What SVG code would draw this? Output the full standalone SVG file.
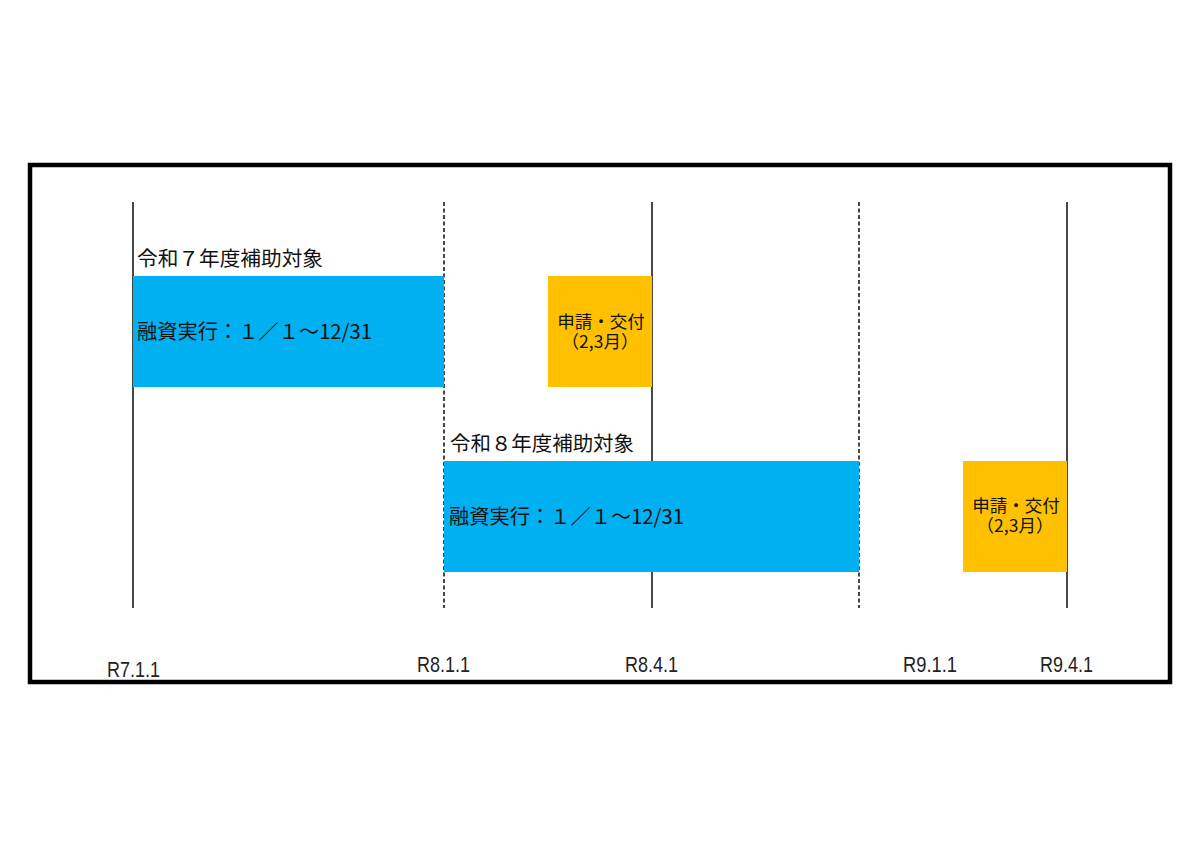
<svg xmlns="http://www.w3.org/2000/svg" width="1200" height="849" viewBox="0 0 1200 849">
<style>
.frame{fill:none;stroke:#000;stroke-width:4.5}
.vl{stroke:#1a1a1a;stroke-width:1.6;fill:none}
.dash{stroke-dasharray:4 2.5}
.blue{fill:#00B0F0}
.orange{fill:#FFC000}
.t{font-family:"Noto Sans CJK JP","Noto Sans",sans-serif;fill:#111;font-size:20px}
.o{font-family:"Noto Sans CJK JP","Noto Sans",sans-serif;fill:#111;font-size:17.5px;text-anchor:middle}
.d{font-family:"Liberation Sans","Noto Sans",sans-serif;fill:#222;font-size:22px}
</style>
<rect width="1200" height="849" fill="#fff"/>
<rect class="frame" x="30" y="165" width="1140" height="517"/>
<g id="timelines">
<line class="vl" x1="133" y1="202" x2="133" y2="608"/>
<line class="vl dash" x1="444" y1="202" x2="444" y2="608"/>
<line class="vl" x1="652" y1="202" x2="652" y2="608"/>
<line class="vl dash" x1="859" y1="202" x2="859" y2="608"/>
<line class="vl" x1="1067" y1="202" x2="1067" y2="608"/>
</g>
<g id="r7-loan">
<rect class="blue" x="133" y="276" width="311" height="111"/>
<text class="t" x="137" y="266" textLength="186" lengthAdjust="spacingAndGlyphs">令和７年度補助対象</text>
<text class="t" x="137" y="339" textLength="235" lengthAdjust="spacingAndGlyphs">融資実行：１／１～12/31</text>
</g>
<g id="r7-apply">
<rect class="orange" x="548" y="276" width="104" height="111"/>
<text class="o" x="601" y="328">申請・交付</text>
<text class="o" x="600" y="348">（2,3月）</text>
</g>
<g id="r8-loan">
<rect class="blue" x="444" y="461" width="415" height="111"/>
<text class="t" x="450" y="451" textLength="184" lengthAdjust="spacingAndGlyphs">令和８年度補助対象</text>
<text class="t" x="449" y="524" textLength="235" lengthAdjust="spacingAndGlyphs">融資実行：１／１～12/31</text>
</g>
<g id="r8-apply">
<rect class="orange" x="963" y="461" width="104" height="111"/>
<text class="o" x="1016" y="512">申請・交付</text>
<text class="o" x="1015" y="532">（2,3月）</text>
</g>
<g id="dates">
<text class="d" x="107" y="677" textLength="53" lengthAdjust="spacingAndGlyphs">R7.1.1</text>
<text class="d" x="417" y="672" textLength="53" lengthAdjust="spacingAndGlyphs">R8.1.1</text>
<text class="d" x="625" y="672" textLength="53" lengthAdjust="spacingAndGlyphs">R8.4.1</text>
<text class="d" x="903" y="672" textLength="54" lengthAdjust="spacingAndGlyphs">R9.1.1</text>
<text class="d" x="1040" y="672" textLength="53" lengthAdjust="spacingAndGlyphs">R9.4.1</text>
</g>
</svg>
